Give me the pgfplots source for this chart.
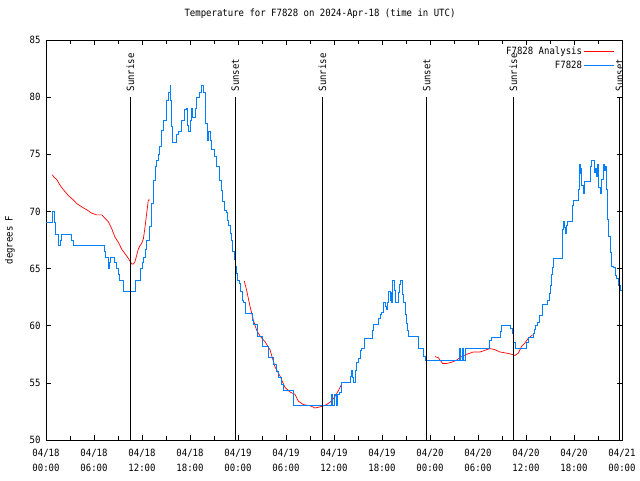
\documentclass[border=0pt]{standalone}
\usepackage{pgfplots}
\pgfplotsset{compat=1.18}
\usepackage{fontspec}
\setmainfont{DejaVu Sans Mono}[FakeStretch=0.9]
\definecolor{obsblue}{RGB}{0,128,255}
\definecolor{anared}{RGB}{255,0,0}
\newcommand{\gfont}{\fontsize{10}{15}\selectfont}
\begin{document}
\begin{tikzpicture}
\useasboundingbox (-46pt,-40pt) rectangle (594pt,440pt);
\begin{axis}[
  scale only axis, width=576pt, height=400pt,
  xmin=0, xmax=72, ymin=50, ymax=85,
  axis line style={line width=0.8pt},
  xtick={0,6,...,72},
  minor xtick={3,9,...,69},
  ytick={50,55,...,85},
  major tick length=5pt, minor tick length=4pt,
  tick style={line width=0.7pt, black},
  xticklabels={{04/18\\00:00},{04/18\\06:00},{04/18\\12:00},{04/18\\18:00},{04/19\\00:00},{04/19\\06:00},{04/19\\12:00},{04/19\\18:00},{04/20\\00:00},{04/20\\06:00},{04/20\\12:00},{04/20\\18:00},{04/21\\00:00}},
  xticklabel style={align=center, font=\gfont, yshift=-6pt},
  yticklabel style={font=\gfont, xshift=-2pt},
  /pgf/number format/assume math mode=true,
  ylabel={degrees F},
  ylabel style={font=\gfont, at={(axis description cs:-0.0625,0.5)}, anchor=center},
  title={Temperature for F7828 on 2024-Apr-18 (time in UTC)},
  title style={font=\gfont, at={(axis description cs:0.4757,1)}, anchor=center, yshift=20pt},
  legend style={font=\gfont, draw=none, fill=none, at={(axis description cs:0.993,0.993)}, anchor=north east, legend cell align=right, row sep=1pt},
  legend plot pos=right,
]
% Analysis (red)
\addplot[color=anared, line width=0.7pt, legend image code/.code={\draw[color=anared, line width=0.8pt] (0.25cm,0cm) -- (1.3cm,0cm);}] coordinates {
(0.79,73.2) (1.0,73.0) (1.33,72.8) (1.75,72.3) (2.17,71.9) (2.79,71.4) (3.42,71.0) (3.83,70.7) (4.46,70.4) (5.08,70.15) (5.71,69.85) (6.33,69.7) (6.96,69.7) (7.375,69.4) (7.79,69.1) (8.21,68.5) (8.625,67.75) (9.04,67.3) (9.46,66.7) (9.875,66.3) (10.29,65.9) (10.71,65.4) (10.92,65.4) (11.125,65.6) (11.33,66.15) (11.54,66.7) (11.75,67.0) (11.96,67.2) (12.17,67.6) (12.375,68.6) (12.58,69.8) (12.79,71.0) (13.0,71.0)
};
\addlegendentry{F7828 Analysis}
\addplot[color=anared, line width=0.7pt, forget plot] coordinates {
(24.79,63.9) (25.08,63.1) (25.5,61.7) (25.92,60.5) (26.33,59.6) (26.75,59.1) (27.375,58.6) (28.0,57.9) (28.625,56.4) (29.25,55.6) (29.875,54.6) (30.5,54.2) (31.125,54.0) (31.54,53.4) (32.17,53.1) (33.0,53.0) (33.625,52.8) (34.25,52.9) (35.08,53.1) (35.5,53.3) (35.9,53.6) (36.3,54.0) (36.6,54.4) (36.9,54.8)
};
\addplot[color=anared, line width=0.7pt, forget plot] coordinates {
(48.625,57.3) (49.04,57.2) (49.25,57.0) (49.58,56.7) (50.08,56.7) (50.7,56.8) (51.33,57.0) (51.96,57.3) (52.58,57.5) (53.42,57.7) (54.25,57.7) (55.08,57.9) (55.5,58.0) (56.125,57.9) (56.75,57.7) (57.58,57.6) (58.21,57.5) (58.625,57.4) (59.04,57.6) (59.46,58.2) (59.875,58.5) (60.29,58.9) (60.83,59.2)
};
% Observations (blue)
\addplot[color=obsblue, line width=0.8pt, const plot, legend image code/.code={\draw[color=obsblue, line width=0.8pt] (0.25cm,0cm) -- (1.3cm,0cm);}] coordinates {
(0,69) (0.83,70) (1.0,69) (1.2,68) (1.54,67) (1.83,67.5) (1.96,68) (3.21,67.5) (3.42,67) (7.25,66.5) (7.46,66) (7.79,65) (7.92,65.5) (8.08,66) (8.5,65.5) (8.75,65) (9.04,64.5) (9.17,64) (9.67,63) (11.13,64) (11.75,65) (12.0,65.5) (12.17,66) (12.4,66.7) (12.58,67.5) (12.92,68.7) (13.2,70.7) (13.42,72.7) (13.63,73.9) (13.83,74.5) (14.0,75) (14.17,75.7) (14.46,77.1) (14.67,78) (15.0,79.7) (15.29,80.4) (15.5,81) (15.58,79.7) (15.71,77.4) (15.79,76) (16.33,76.7) (16.5,77) (16.96,78) (17.25,78.9) (17.58,79) (17.71,77.5) (17.79,77) (18.08,78) (18.21,79) (18.33,78.2) (18.625,79) (18.83,80) (19.125,80.4) (19.46,81) (19.67,80.4) (19.875,77.7) (20.17,76.2) (20.29,77) (20.5,76.2) (20.71,75.4) (21.0,74.8) (21.33,73.9) (21.625,72.7) (21.875,71.8) (22.08,70.85) (22.25,70.1) (22.5,69.9) (22.67,69.25) (22.79,68.8) (23.0,68.1) (23.2,67.5) (23.33,66.5) (23.5,65.8) (23.67,65.2) (23.75,64.6) (23.92,64.0) (24.17,63.7) (24.33,63.0) (24.5,62.25) (24.67,62.0) (24.96,61.1) (25.75,60.5) (25.9,60.1) (26.42,59.1) (27.08,58.2) (27.83,57.2) (28.42,56.6) (28.75,56.0) (29.1,55.5) (29.4,54.9) (29.7,54.3) (30.92,53.0) (35.71,54) (35.83,53) (36.08,54) (36.25,53) (36.4,54) (36.67,54.2) (36.875,54.5) (36.96,55) (38.0,55.6) (38.2,56.1) (38.3,55.5) (38.42,55) (38.625,56.1) (38.83,56.8) (39.04,57.1) (39.25,57.8) (39.46,58) (39.75,58.9) (40.79,59.6) (40.92,60.1) (41.54,60.6) (41.75,61) (41.96,61.2) (42.17,62) (42.375,61.7) (42.5,61.4) (42.67,62) (42.83,63) (43.0,62.2) (43.08,62.9) (43.21,62) (43.33,64) (43.5,63.1) (43.625,62) (44.04,62.9) (44.17,63.6) (44.33,64) (44.5,62.7) (44.67,62) (44.875,61) (45.0,60.2) (45.17,59.6) (45.33,59.1) (46.54,58) (47.17,57.3) (47.375,57) (51.67,58) (51.8,57) (52.0,58) (52.15,57) (52.375,58) (55.42,58.7) (55.71,59) (56.83,59.5) (56.96,60) (58.0,59.8) (58.29,59.3) (58.42,58.5) (58.625,58) (60.0,58.5) (60.29,59) (60.92,59.3) (61.04,59.7) (61.21,60.0) (61.46,60.3) (61.625,60.9) (62.04,61.9) (62.71,62.2) (62.875,62.8) (63.0,63.5) (63.125,64.5) (63.29,65.1) (63.42,65.9) (64.54,66.7) (64.58,68.4) (64.67,69.1) (64.79,68.6) (64.875,68.1) (65.08,68.8) (65.21,69.1) (65.79,70.5) (65.92,71.0) (66.54,71.9) (66.625,74.1) (66.75,73.3) (66.83,73.8) (66.96,72.3) (67.17,71.6) (67.29,72.6) (68.0,73.9) (68.125,74.5) (68.54,73.4) (68.71,73.8) (68.83,73.1) (68.96,74.1) (69.08,72.1) (69.25,71.6) (69.46,72.8) (69.67,74.1) (69.79,73.6) (69.875,73.9) (70.0,71.9) (70.17,69.3) (70.29,67.8) (70.5,66.4) (70.71,65.2) (70.92,65.1) (71.125,64.4) (71.33,64.1) (71.54,63.5) (71.75,63.1) (72,63.1)
};
\addlegendentry{F7828}
% sunrise / sunset
\addplot[black, line width=0.9pt, forget plot] coordinates {(10.54,50) (10.54,80)};
\addplot[black, line width=0.9pt, forget plot] coordinates {(23.67,50) (23.67,80)};
\addplot[black, line width=0.9pt, forget plot] coordinates {(34.54,50) (34.54,80)};
\addplot[black, line width=0.9pt, forget plot] coordinates {(47.6,50) (47.6,80)};
\addplot[black, line width=0.9pt, forget plot] coordinates {(58.42,50) (58.42,80)};
\addplot[black, line width=0.9pt, forget plot] coordinates {(71.7,50) (71.7,80)};
\node[rotate=90, anchor=west, font=\gfont, inner sep=1pt] at (axis cs:10.54,80.4) {Sunrise};
\node[rotate=90, anchor=west, font=\gfont, inner sep=1pt] at (axis cs:23.67,80.4) {Sunset};
\node[rotate=90, anchor=west, font=\gfont, inner sep=1pt] at (axis cs:34.54,80.4) {Sunrise};
\node[rotate=90, anchor=west, font=\gfont, inner sep=1pt] at (axis cs:47.6,80.4) {Sunset};
\node[rotate=90, anchor=west, font=\gfont, inner sep=1pt] at (axis cs:58.42,80.4) {Sunrise};
\node[rotate=90, anchor=west, font=\gfont, inner sep=1pt] at (axis cs:71.7,80.4) {Sunset};
\end{axis}
\end{tikzpicture}
\end{document}
